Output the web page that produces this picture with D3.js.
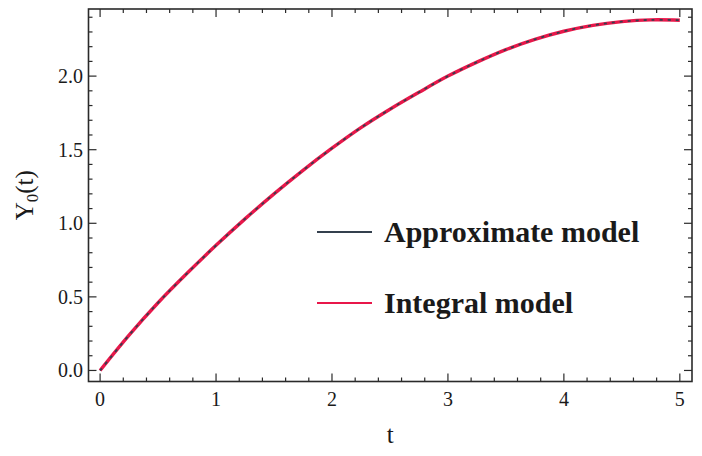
<!DOCTYPE html>
<html>
<head>
<meta charset="utf-8">
<script src="https://cdn.jsdelivr.net/npm/d3@7/dist/d3.min.js"></script>
<style>
  html, body { margin: 0; padding: 0; background: #ffffff; }
  svg { display: block; }
  text { font-family: "Liberation Serif", "Times New Roman", serif; fill: #1a1a1a; }
</style>
</head>
<body>
<script>
// Time samples and the two solutions Y0(t)
const tValues = [0, 0.25, 0.5, 0.75, 1.0, 1.25, 1.5, 1.75, 2.0, 2.25, 2.5,
                 2.75, 3.0, 3.25, 3.5, 3.75, 4.0, 4.25, 4.5, 4.75, 5.0];
const integralModel = [0, 0.24, 0.46, 0.66, 0.85, 1.03, 1.20, 1.36, 1.51, 1.65, 1.775,
                       1.89, 2.0, 2.095, 2.18, 2.25, 2.305, 2.345, 2.37, 2.382, 2.38];
const approximateModel = [0, 0.24, 0.46, 0.66, 0.85, 1.03, 1.20, 1.36, 1.51, 1.65, 1.775,
                          1.89, 2.0, 2.095, 2.18, 2.25, 2.305, 2.345, 2.37, 2.382, 2.38];
const xTicks = [0, 1, 2, 3, 4, 5];
const yTicks = [0.0, 0.5, 1.0, 1.5, 2.0];
const seriesNames = ["Approximate model", "Integral model"];

const W = 702, H = 456;
const frame = { left: 88.5, right: 692, top: 9, bottom: 381.5 };

const svg = d3.select("body").append("svg").attr("width", W).attr("height", H);

const x = d3.scaleLinear().domain([-0.1, 5.105]).range([frame.left, frame.right]);
const y = d3.scaleLinear().domain([-0.075, 2.456]).range([frame.bottom, frame.top]);

const frameColor = "#2a2a2a";

// Minor tick positions
const xMinor = d3.range(0, 5.0001, 0.2).filter(v => Math.abs(v - Math.round(v)) > 1e-6);
const yMinor = d3.range(0, 2.4501, 0.1).filter(v => Math.abs(v * 2 - Math.round(v * 2)) > 1e-6);

function inwardTicks(g, scale, ticks, size, orient) {
  const horiz = orient === "bottom" || orient === "top";
  g.append("g").selectAll("line").data(ticks).enter().append("line")
    .attr("x1", d => horiz ? scale(d) : (orient === "left" ? frame.left : frame.right))
    .attr("x2", d => horiz ? scale(d) : (orient === "left" ? frame.left + size : frame.right - size))
    .attr("y1", d => horiz ? (orient === "bottom" ? frame.bottom : frame.top) : scale(d))
    .attr("y2", d => horiz ? (orient === "bottom" ? frame.bottom - size : frame.top + size) : scale(d))
    .attr("stroke", frameColor).attr("stroke-width", 1.2);
}

const tickG = svg.append("g");
["bottom", "top"].forEach(o => {
  inwardTicks(tickG, x, xTicks, 8, o);
  inwardTicks(tickG, x, xMinor, 4, o);
});
["left", "right"].forEach(o => {
  inwardTicks(tickG, y, yTicks, 8, o);
  inwardTicks(tickG, y, yMinor, 4, o);
});

// Frame
svg.append("rect")
  .attr("x", frame.left).attr("y", frame.top)
  .attr("width", frame.right - frame.left).attr("height", frame.bottom - frame.top)
  .attr("fill", "none").attr("stroke", frameColor).attr("stroke-width", 1.6);

// Tick labels
svg.append("g").selectAll("text").data(xTicks).enter().append("text")
  .attr("x", d => x(d)).attr("y", 406)
  .attr("text-anchor", "middle").attr("font-size", 20)
  .text(d => d3.format("d")(d));

svg.append("g").selectAll("text").data(yTicks).enter().append("text")
  .attr("x", 83).attr("y", d => y(d) + 7)
  .attr("text-anchor", "end").attr("font-size", 20)
  .text(d => d3.format(".1f")(d));

// Axis labels
svg.append("text")
  .attr("x", (frame.left + frame.right) / 2).attr("y", 443)
  .attr("text-anchor", "middle").attr("font-size", 25)
  .text("t");

const yLab = svg.append("text")
  .attr("transform", `translate(33, ${(frame.top + frame.bottom) / 2}) rotate(-90)`)
  .attr("text-anchor", "middle").attr("font-size", 25);
yLab.append("tspan").text("Y");
yLab.append("tspan").attr("font-size", 17).attr("dy", 5).text("0");
yLab.append("tspan").attr("dy", -5).text("(t)");

// Curves: solid integral model underneath, dashed approximate model on top
const redColor = "#e8174a";
const darkColor = "#34404e";
const line = d3.line().x(d => x(d[0])).y(d => y(d[1])).curve(d3.curveCatmullRom.alpha(0.5));

svg.append("path")
  .datum(tValues.map((t, i) => [t, integralModel[i]]))
  .attr("d", line).attr("fill", "none")
  .attr("stroke", redColor).attr("stroke-width", 3.4);

svg.append("path")
  .datum(tValues.map((t, i) => [t, approximateModel[i]]))
  .attr("d", line).attr("fill", "none")
  .attr("stroke", darkColor).attr("stroke-width", 1.8)
  .attr("stroke-dasharray", "3,5");

// Legend
const legendColors = [darkColor, redColor];
const legendY = [232, 303];
const leg = svg.append("g");
seriesNames.forEach((name, i) => {
  leg.append("line")
    .attr("x1", 317).attr("x2", 372)
    .attr("y1", legendY[i]).attr("y2", legendY[i])
    .attr("stroke", legendColors[i]).attr("stroke-width", 2.2);
  leg.append("text")
    .attr("x", 384).attr("y", legendY[i] + 10)
    .attr("font-size", 30).attr("font-weight", "bold")
    .text(name);
});
</script>
</body>
</html>
